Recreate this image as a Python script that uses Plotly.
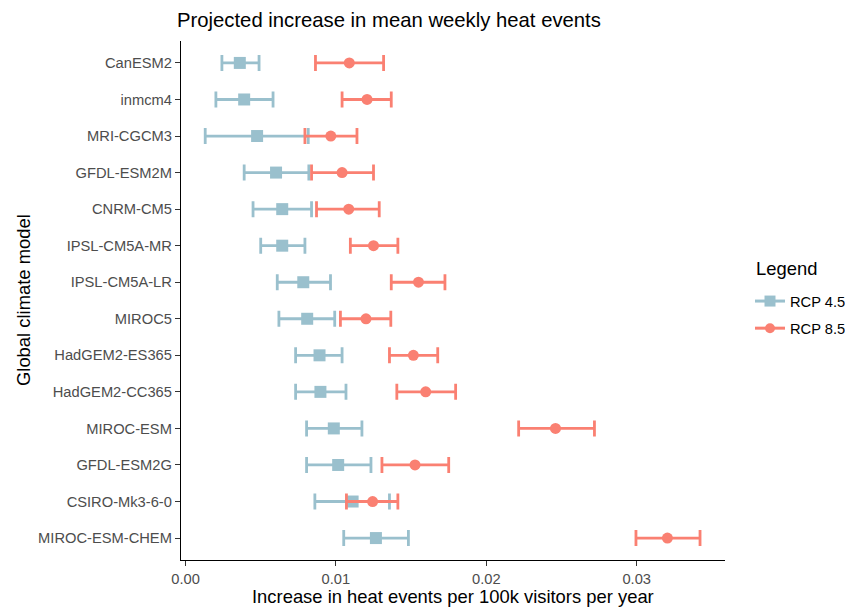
import plotly.graph_objects as go

models = ["CanESM2", "inmcm4", "MRI-CGCM3", "GFDL-ESM2M", "CNRM-CM5", "IPSL-CM5A-MR",
          "IPSL-CM5A-LR", "MIROC5", "HadGEM2-ES365", "HadGEM2-CC365", "MIROC-ESM",
          "GFDL-ESM2G", "CSIRO-Mk3-6-0", "MIROC-ESM-CHEM"]

rcp45_mean = [0.00361, 0.00390, 0.00476, 0.00602, 0.00643, 0.00643, 0.00783, 0.00809,
              0.00891, 0.00897, 0.00986, 0.01015, 0.01111, 0.01266]
rcp45_low = [0.00242, 0.00202, 0.00131, 0.00390, 0.00449, 0.00500, 0.00610, 0.00621,
             0.00732, 0.00732, 0.00805, 0.00805, 0.00860, 0.01052]
rcp45_high = [0.00489, 0.00582, 0.00816, 0.00820, 0.00838, 0.00794, 0.00964, 0.00992,
              0.01041, 0.01067, 0.01173, 0.01233, 0.01356, 0.01482]

rcp85_mean = [0.01089, 0.01207, 0.00966, 0.01041, 0.01085, 0.01250, 0.01549, 0.01200,
              0.01515, 0.01597, 0.02460, 0.01526, 0.01244, 0.03204]
rcp85_low = [0.00864, 0.01041, 0.00794, 0.00838, 0.00871, 0.01096, 0.01368, 0.01030,
             0.01356, 0.01405, 0.02215, 0.01306, 0.01070, 0.02995]
rcp85_high = [0.01317, 0.01368, 0.01140, 0.01250, 0.01288, 0.01412, 0.01725, 0.01365,
              0.01677, 0.01796, 0.02719, 0.01750, 0.01412, 0.03421]

x_ticks = [0.00, 0.01, 0.02, 0.03]
x_tick_labels = ["0.00", "0.01", "0.02", "0.03"]

BLUE = "#9AC0CD"
RED = "#FA8072"
FONT = "Liberation Sans, Arial, sans-serif"

# The page body adds an 8px margin, so the figure is sized to fit the window.
OFF = 8
W, H = 853 - OFF, 607 - OFF
L, R, T, B = 181 - OFF, 128, 41 - OFF, 47
PW, PH = W - L - R, H - T - B


def px_x(sx):
    """screen x -> paper x"""
    return (sx - OFF - L) / PW


def px_y(sy):
    """screen y -> paper y"""
    return (T + PH - (sy - OFF)) / PH


fig = go.Figure()


def add_series(name, mean, low, high, color, symbol, size, group):
    fig.add_trace(go.Scatter(
        x=mean, y=models, mode="markers", name=name, showlegend=False,
        marker=dict(color=color, symbol=symbol, size=size),
        error_x=dict(type="data", symmetric=False,
                     array=[h - m for h, m in zip(high, mean)],
                     arrayminus=[m - l for m, l in zip(mean, low)],
                     color=color, thickness=2.8, width=8),
    ))
    fig.add_trace(go.Scatter(
        x=[None], y=[None], mode="lines+markers", name=name, showlegend=True,
        legendgroup=group,
        marker=dict(color=color, symbol=symbol, size=size - 1),
        line=dict(color=color, width=3),
    ))


add_series("RCP 4.5", rcp45_mean, rcp45_low, rcp45_high, BLUE, "square", 12, "g1")
add_series("RCP 8.5", rcp85_mean, rcp85_low, rcp85_high, RED, "circle", 11, "g2")

fig.update_layout(
    width=W, height=H,
    margin=dict(l=L, r=R, t=T, b=B, autoexpand=False),
    plot_bgcolor="white", paper_bgcolor="white",
    font=dict(family=FONT, color="black"),
    title=dict(text="Projected increase in mean weekly heat events",
               xref="container", x=(177 - OFF) / W, xanchor="left",
               yref="container", y=1 - (20 - OFF) / H, yanchor="middle",
               font=dict(size=20.3, color="black")),
    xaxis=dict(range=[-0.0003, 0.03587], tickvals=x_ticks, ticktext=x_tick_labels,
               showgrid=False, zeroline=False, showline=True, linecolor="black",
               linewidth=1.3, ticks="outside", ticklen=5, tickwidth=1.2,
               tickcolor="#333333", automargin=False,
               tickfont=dict(size=14.7, color="#4D4D4D")),
    yaxis=dict(categoryorder="array", categoryarray=models[::-1],
               range=[-0.6, len(models) - 0.4],
               showgrid=False, zeroline=False, showline=True, linecolor="black",
               linewidth=1.3, ticks="outside", ticklen=5, tickwidth=1.2,
               tickcolor="#333333", automargin=False,
               tickfont=dict(size=14.7, color="#4D4D4D")),
    legend=dict(x=px_x(750), xanchor="left", y=px_y(315), yanchor="middle",
                font=dict(size=14.7, color="black"), itemwidth=30,
                tracegroupgap=5),
    annotations=[
        dict(text="Legend", xref="paper", yref="paper",
             x=px_x(754), y=px_y(268), xanchor="left", yanchor="middle",
             showarrow=False, font=dict(size=18.4, color="black")),
        dict(text="Increase in heat events per 100k visitors per year",
             xref="paper", yref="paper", x=0.5, y=px_y(596),
             xanchor="center", yanchor="middle", showarrow=False,
             font=dict(size=18.4, color="black")),
        dict(text="Global climate model", textangle=-90,
             xref="paper", yref="paper", x=px_x(23.5), y=0.5,
             xanchor="center", yanchor="middle", showarrow=False,
             font=dict(size=18.4, color="black")),
    ],
)

fig.write_html("out.html")
